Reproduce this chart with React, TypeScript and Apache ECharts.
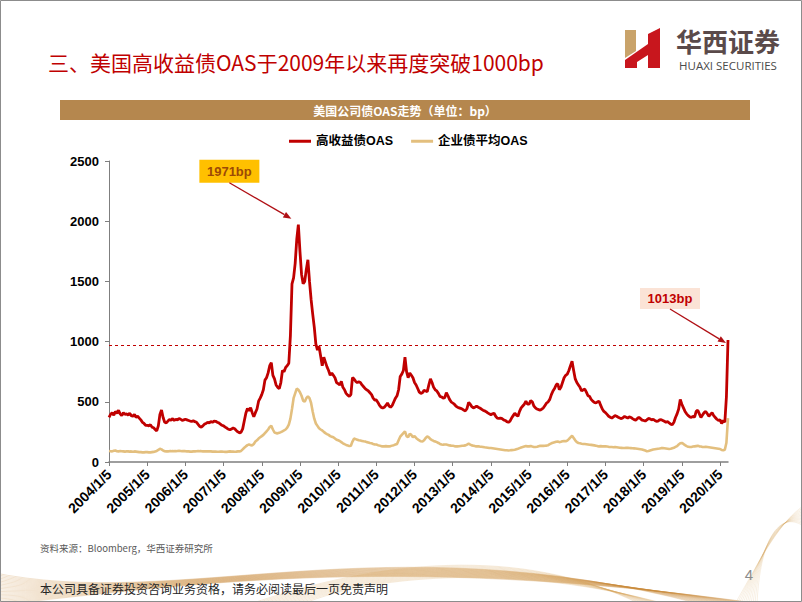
import React, { useEffect, useRef } from "react";
import * as echarts from "echarts";

const years = [2004, 2005, 2006, 2007, 2008, 2009, 2010, 2011, 2012, 2013, 2014, 2015, 2016, 2017, 2018, 2019, 2020];

// 高收益债OAS (semi-monthly readings, bp)
const hy2004 = [370, 395, 410, 388, 420, 405, 430, 400, 385, 410, 395, 400, 390, 405, 385, 380, 395, 372, 380, 365, 350, 330, 320, 305];
const hy2005 = [305, 300, 310, 290, 285, 270, 258, 300, 395, 432, 370, 330, 325, 340, 352, 348, 360, 345, 355, 350, 362, 355, 345, 350];
const hy2006 = [355, 350, 345, 340, 338, 342, 335, 330, 312, 295, 290, 300, 315, 320, 330, 325, 335, 330, 340, 338, 330, 325, 315, 305];
const hy2007 = [300, 290, 282, 272, 268, 275, 282, 276, 262, 250, 242, 248, 275, 340, 405, 445, 425, 452, 410, 375, 410, 440, 505, 530];
const hy2008 = [560, 600, 680, 700, 740, 800, 825, 720, 690, 640, 620, 610, 660, 760, 750, 785, 800, 820, 1050, 1480, 1530, 1650, 1850, 1971];
const hy2009 = [1750, 1560, 1480, 1500, 1600, 1680, 1500, 1350, 1230, 1120, 980, 930, 960, 880, 800, 870, 830, 790, 760, 720, 740, 720, 700, 660];
const hy2010 = [650, 640, 670, 620, 600, 570, 555, 545, 560, 700, 690, 670, 660, 665, 660, 640, 625, 610, 600, 590, 575, 560, 530, 515];
const hy2011 = [515, 495, 470, 455, 448, 455, 470, 490, 465, 455, 470, 500, 530, 550, 600, 710, 730, 760, 870, 750, 700, 740, 720, 700];
const hy2012 = [660, 640, 610, 580, 570, 575, 595, 590, 585, 640, 690, 660, 620, 600, 590, 570, 545, 540, 530, 535, 575, 550, 520, 500];
const hy2013 = [490, 480, 465, 455, 450, 445, 440, 430, 425, 445, 495, 480, 460, 450, 455, 465, 455, 448, 440, 430, 425, 418, 408, 400];
const hy2014 = [393, 400, 405, 380, 365, 362, 365, 360, 350, 345, 335, 330, 340, 365, 385, 405, 390, 380, 420, 450, 465, 480, 505, 480];
const hy2015 = [480, 510, 500, 465, 450, 440, 435, 430, 440, 450, 470, 490, 500, 520, 560, 590, 610, 640, 650, 600, 620, 660, 700, 720];
const hy2016 = [730, 760, 800, 836, 760, 690, 660, 640, 620, 590, 600, 605, 580, 550, 545, 520, 505, 495, 490, 500, 505, 470, 440, 420];
const hy2017 = [410, 395, 380, 372, 365, 375, 385, 380, 372, 365, 360, 368, 378, 372, 365, 375, 370, 360, 352, 348, 360, 372, 360, 348];
const hy2018 = [345, 340, 350, 362, 358, 350, 355, 345, 338, 340, 350, 352, 345, 338, 330, 335, 325, 315, 310, 330, 370, 400, 440, 520];
const hy2019 = [480, 450, 420, 400, 385, 375, 370, 380, 372, 420, 430, 400, 370, 390, 410, 420, 400, 380, 395, 410, 385, 370, 355, 345];
const hy2020 = [350, 320, 345, 330, 540, 1013];

// 企业债平均OAS (semi-monthly readings, bp)
const ig2004 = [92, 90, 88, 93, 95, 90, 88, 92, 90, 88, 86, 90, 88, 86, 88, 85, 88, 86, 84, 82, 82, 80, 80, 82];
const ig2005 = [82, 80, 80, 82, 84, 88, 92, 100, 110, 105, 95, 90, 88, 88, 90, 90, 92, 90, 90, 92, 94, 92, 90, 90];
const ig2006 = [90, 88, 88, 86, 86, 88, 88, 90, 92, 90, 90, 88, 88, 88, 90, 88, 88, 86, 86, 86, 85, 85, 86, 86];
const ig2007 = [85, 84, 84, 86, 88, 86, 86, 85, 86, 88, 88, 92, 105, 118, 130, 140, 145, 140, 138, 150, 170, 180, 195, 205];
const ig2008 = [215, 225, 240, 255, 270, 290, 300, 270, 245, 240, 238, 242, 248, 255, 262, 270, 285, 310, 360, 440, 530, 570, 610, 600];
const ig2009 = [580, 550, 510, 500, 530, 545, 530, 490, 420, 360, 320, 300, 280, 270, 262, 250, 240, 232, 225, 215, 210, 205, 195, 185];
const ig2010 = [180, 175, 165, 155, 148, 142, 138, 132, 135, 170, 195, 190, 185, 180, 178, 175, 172, 170, 165, 162, 158, 155, 150, 146];
const ig2011 = [145, 140, 136, 132, 130, 130, 132, 130, 130, 132, 136, 140, 145, 150, 180, 210, 225, 240, 255, 215, 205, 235, 225, 205];
const ig2012 = [215, 200, 188, 180, 172, 170, 180, 200, 212, 205, 190, 182, 175, 170, 165, 158, 150, 146, 144, 145, 145, 142, 138, 136];
const ig2013 = [135, 132, 130, 130, 131, 133, 135, 136, 138, 145, 152, 145, 138, 135, 132, 130, 130, 128, 127, 125, 122, 120, 118, 116];
const ig2014 = [116, 114, 112, 110, 108, 106, 104, 102, 100, 98, 97, 96, 97, 99, 100, 102, 106, 110, 115, 120, 124, 128, 132, 130];
const ig2015 = [130, 132, 128, 125, 124, 126, 130, 134, 135, 134, 135, 136, 140, 148, 155, 160, 164, 168, 170, 165, 168, 172, 175, 172];
const ig2016 = [178, 190, 205, 218, 200, 180, 165, 158, 155, 152, 150, 150, 148, 146, 144, 142, 140, 138, 135, 132, 130, 132, 130, 130];
const ig2017 = [130, 128, 126, 125, 124, 123, 124, 122, 120, 118, 117, 116, 116, 117, 118, 116, 115, 114, 113, 112, 110, 108, 106, 104];
const ig2018 = [100, 95, 90, 92, 96, 100, 104, 106, 108, 110, 112, 115, 116, 114, 112, 110, 108, 110, 114, 118, 125, 132, 145, 155];
const ig2019 = [158, 150, 140, 132, 126, 124, 125, 128, 130, 132, 134, 130, 128, 125, 124, 126, 124, 122, 120, 118, 116, 114, 112, 110];
const ig2020 = [108, 100, 98, 102, 160, 365];

const tickLabels = [
  "2004/1/5", "2005/1/5", "2006/1/5", "2007/1/5", "2008/1/5", "2009/1/5", "2010/1/5", "2011/1/5",
  "2012/1/5", "2013/1/5", "2014/1/5", "2015/1/5", "2016/1/5", "2017/1/5", "2018/1/5", "2019/1/5", "2020/1/5",
];

const yTicks = [0, 500, 1000, 1500, 2000, 2500];
const thresholdLine = 970;

const seriesNames = ["高收益债OAS", "企业债平均OAS"];

const hyByYear = [hy2004, hy2005, hy2006, hy2007, hy2008, hy2009, hy2010, hy2011, hy2012, hy2013, hy2014, hy2015, hy2016, hy2017, hy2018, hy2019, hy2020];
const igByYear = [ig2004, ig2005, ig2006, ig2007, ig2008, ig2009, ig2010, ig2011, ig2012, ig2013, ig2014, ig2015, ig2016, ig2017, ig2018, ig2019, ig2020];

const hyData: number[] = hyByYear.flat();
const igData: number[] = igByYear.flat();
const categories: string[] = [];
years.forEach((y, i) => {
  hyByYear[i].forEach((_, k) => {
    const m = Math.floor(k / 2) + 1;
    const d = k % 2 === 0 ? 5 : 20;
    categories.push(`${y}/${m}/${d}`);
  });
});

const NUM_FONT = "'Liberation Sans', Arial, 'Noto Sans CJK SC', sans-serif";
const CJK_FONT = "'Noto Sans CJK SC', 'Liberation Sans', sans-serif";

function arrowEls(x1: number, y1: number, x2: number, y2: number, color: string) {
  const ang = Math.atan2(y2 - y1, x2 - x1);
  const L = 8;
  const W = 3.2;
  const c = Math.cos(ang);
  const s = Math.sin(ang);
  const bx = x2 - L * c;
  const by = y2 - L * s;
  return [
    { type: "line", z: 20, shape: { x1, y1, x2: bx, y2: by }, style: { stroke: color, lineWidth: 1.3 } },
    {
      type: "polygon",
      z: 20,
      shape: { points: [[x2, y2], [bx + W * s, by - W * c], [bx - W * s, by + W * c]] },
      style: { fill: color },
    },
  ];
}

function waveEls() {
  const els: any[] = [];
  for (let i = 0; i < 22; i++) {
    els.push({
      type: "bezierCurve",
      z: 0,
      silent: true,
      shape: {
        x1: -10, y1: 572 + i * 1.6,
        cpx1: 180, cpy1: 612 - i * 1.2,
        cpx2: 380, cpy2: 520 + i * 1.5,
        x2: 700 + i * 3, y2: 604,
      },
      style: { stroke: "rgba(200,140,60,0.30)", lineWidth: 0.8, fill: null },
    });
  }
  for (let i = 0; i < 14; i++) {
    els.push({
      type: "bezierCurve",
      z: 0,
      silent: true,
      shape: {
        x1: 250 + i * 4, y1: 604,
        cpx1: 380, cpy1: 560 + i,
        cpx2: 520, cpy2: 545 + i * 1.5,
        x2: 640 + i * 2, y2: 604,
      },
      style: { stroke: "rgba(215,165,90,0.28)", lineWidth: 0.8, fill: null },
    });
  }
  for (let i = 0; i < 12; i++) {
    els.push({
      type: "bezierCurve",
      z: 0,
      silent: true,
      shape: {
        x1: 735 + i * 2, y1: 604,
        cpx1: 760, cpy1: 560 - i * 2,
        cpx2: 780, cpy2: 520 - i,
        x2: 805, y2: 505 + i * 2,
      },
      style: { stroke: "rgba(215,170,100,0.22)", lineWidth: 0.8, fill: null },
    });
  }
  return els;
}

export default function App() {
  const ref = useRef<HTMLDivElement>(null);

  useEffect(() => {
    if (!ref.current) return;
    const chart = echarts.init(ref.current, null, { renderer: "svg" });

    chart.setOption({
      animation: false,
      backgroundColor: "#ffffff",
      legend: {
        data: seriesNames,
        left: 284,
        top: 130,
        icon: "rect",
        itemWidth: 22,
        itemHeight: 3,
        itemGap: 18,
        textStyle: { fontSize: 12.5, fontWeight: "bold", color: "#000", fontFamily: NUM_FONT },
      },
      grid: { left: 109, right: 74, top: 161, bottom: 140, containLabel: false },
      xAxis: {
        type: "category",
        data: categories,
        boundaryGap: false,
        axisLine: { lineStyle: { color: "#7f7f7f", width: 1.5 } },
        axisTick: {
          show: true,
          length: 4,
          lineStyle: { color: "#7f7f7f" },
          interval: (idx: number, val: string) => tickLabels.includes(val),
        },
        axisLabel: {
          rotate: 45,
          margin: 10,
          fontSize: 14,
          fontWeight: "bold",
          color: "#000",
          fontFamily: NUM_FONT,
          interval: (idx: number, val: string) => tickLabels.includes(val),
        },
        splitLine: { show: false },
      },
      yAxis: {
        type: "value",
        min: yTicks[0],
        max: yTicks[yTicks.length - 1],
        interval: 500,
        axisLine: { show: true, lineStyle: { color: "#7f7f7f", width: 1 } },
        axisTick: { show: true, length: 4, lineStyle: { color: "#7f7f7f" } },
        axisLabel: {
          fontSize: 13,
          fontWeight: "bold",
          color: "#000",
          fontFamily: NUM_FONT,
          margin: 10,
          formatter: (v: number) => String(v),
        },
        splitLine: { show: false },
      },
      series: [
        {
          name: seriesNames[0],
          type: "line",
          data: hyData,
          showSymbol: false,
          z: 4,
          lineStyle: { color: "#C00000", width: 2.8 },
          itemStyle: { color: "#C00000" },
          markLine: {
            silent: true,
            symbol: ["none", "none"],
            label: { show: false },
            lineStyle: { type: [3, 3], color: "#C00000", width: 1.1 },
            data: [{ yAxis: thresholdLine }],
          },
        },
        {
          name: seriesNames[1],
          type: "line",
          data: igData,
          showSymbol: false,
          z: 3,
          lineStyle: { color: "#E3BF7E", width: 2.6 },
          itemStyle: { color: "#E3BF7E" },
        },
      ],
    });

    const peakIdx = hyData.indexOf(Math.max(...hyData));
    const pk = chart.convertToPixel({ gridIndex: 0 }, [peakIdx, hyData[peakIdx]]) as number[];
    const lastIdx = hyData.length - 1;
    const lp = chart.convertToPixel({ gridIndex: 0 }, [lastIdx, hyData[lastIdx]]) as number[];

    const tip1 = [pk[0] - 7, pk[1] - 6];
    const tip2 = [lp[0] - 2, lp[1] + 3];

    const graphics: any[] = [
      ...waveEls(),
      {
        type: "rect",
        z: 30,
        silent: true,
        shape: { x: 0.5, y: 0.5, width: 801, height: 601 },
        style: { fill: null, stroke: "#8c8c8c", lineWidth: 1 },
      },
      {
        type: "text",
        z: 10,
        x: 48,
        y: 62,
        style: {
          text: "三、美国高收益债OAS于2009年以来再度突破1000bp",
          fill: "#C00000",
          font: `21px ${CJK_FONT}`,
          textVerticalAlign: "middle",
        },
      },
      // logo
      { type: "polygon", z: 10, shape: { points: [[625, 30], [636, 30], [636, 51], [625, 58]] }, style: { fill: "#C9A36A" } },
      { type: "polygon", z: 10, shape: { points: [[648, 34], [660, 28], [660, 68], [648, 68]] }, style: { fill: "#C8161D" } },
      {
        type: "polygon",
        z: 10,
        shape: { points: [[625, 60], [648, 44], [648, 55], [637, 62], [637, 68], [625, 68]] },
        style: { fill: "#C8161D" },
      },
      {
        type: "text",
        z: 10,
        x: 728,
        y: 40,
        style: {
          text: "华西证券",
          fill: "#5a4a4a",
          font: `bold 26px ${CJK_FONT}`,
          textAlign: "center",
          textVerticalAlign: "middle",
        },
      },
      {
        type: "text",
        z: 10,
        x: 728,
        y: 65.5,
        style: {
          text: "HUAXI SECURITIES",
          fill: "#4a4a4a",
          font: `11.5px 'Open Sans', ${NUM_FONT}`,
          textAlign: "center",
          textVerticalAlign: "middle",
        },
      },
      // header bar
      { type: "rect", z: 10, shape: { x: 60, y: 100, width: 690, height: 20 }, style: { fill: "#B5874E" } },
      {
        type: "text",
        z: 11,
        x: 405,
        y: 110,
        style: {
          text: "美国公司债OAS走势（单位：bp）",
          fill: "#ffffff",
          font: `bold 12px ${CJK_FONT}`,
          textAlign: "center",
          textVerticalAlign: "middle",
        },
      },
      // annotation 1971bp
      { type: "rect", z: 20, shape: { x: tip1[0] - 92, y: tip1[1] - 59, width: 60, height: 23 }, style: { fill: "#FFC000" } },
      {
        type: "text",
        z: 21,
        x: tip1[0] - 62,
        y: tip1[1] - 47.5,
        style: {
          text: "1971bp",
          fill: "#9C4A06",
          font: `bold 13px ${NUM_FONT}`,
          textAlign: "center",
          textVerticalAlign: "middle",
        },
      },
      ...arrowEls(tip1[0] - 62, tip1[1] - 36, tip1[0], tip1[1], "#B01015"),
      // annotation 1013bp
      { type: "rect", z: 20, shape: { x: tip2[0] - 86, y: tip2[1] - 55, width: 60, height: 21 }, style: { fill: "#FBE3D6" } },
      {
        type: "text",
        z: 21,
        x: tip2[0] - 56,
        y: tip2[1] - 44.5,
        style: {
          text: "1013bp",
          fill: "#C00000",
          font: `bold 13px ${NUM_FONT}`,
          textAlign: "center",
          textVerticalAlign: "middle",
        },
      },
      ...arrowEls(tip2[0] - 56, tip2[1] - 34, tip2[0], tip2[1], "#B01015"),
      // footer
      {
        type: "text",
        z: 10,
        x: 40,
        y: 548,
        style: {
          text: "资料来源：Bloomberg，华西证券研究所",
          fill: "#595959",
          font: `9.5px ${CJK_FONT}`,
          textVerticalAlign: "middle",
        },
      },
      {
        type: "text",
        z: 10,
        x: 40,
        y: 588,
        style: {
          text: "本公司具备证券投资咨询业务资格，请务必阅读最后一页免责声明",
          fill: "#262626",
          font: `12px ${CJK_FONT}`,
          textVerticalAlign: "middle",
        },
      },
      {
        type: "text",
        z: 10,
        x: 749,
        y: 574,
        style: {
          text: "4",
          fill: "#8c8c8c",
          font: `15px ${NUM_FONT}`,
          textAlign: "center",
          textVerticalAlign: "middle",
        },
      },
    ];

    chart.setOption({ graphic: graphics });

    return () => chart.dispose();
  }, []);

  return (
    <div
      ref={ref}
      style={{ position: "fixed", left: 0, top: 0, width: 802, height: 602, background: "#fff" }}
    />
  );
}
